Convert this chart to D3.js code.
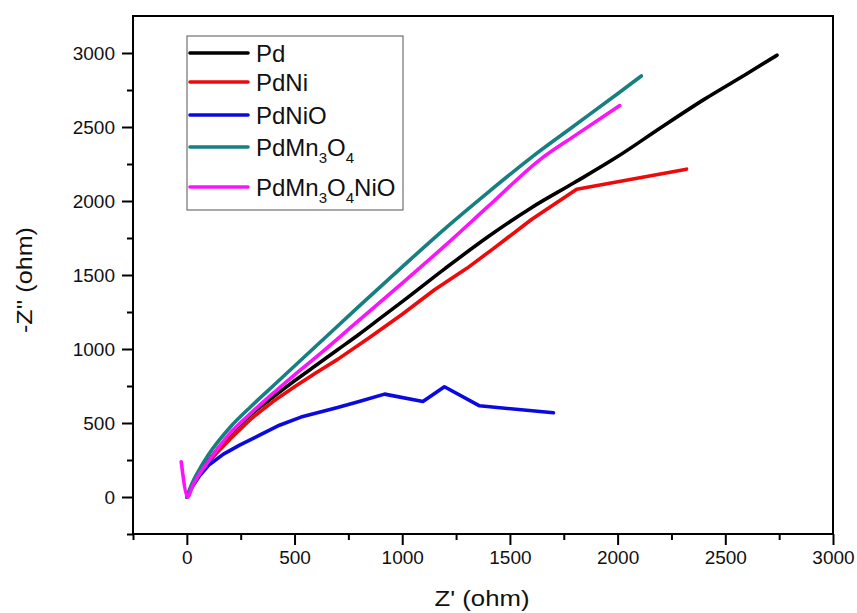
<!DOCTYPE html>
<html>
<head>
<meta charset="utf-8">
<script src="https://cdn.jsdelivr.net/npm/d3@7"></script>
<style>
  html, body { margin: 0; padding: 0; background: #fff; }
  svg { display: block; font-family: "Liberation Sans", Arial, sans-serif; }
</style>
</head>
<body>
<svg id="chart" width="857" height="613"></svg>
<script>
// Nyquist plot: -Z'' against Z' for five electrode materials

const seriesNames = ["Pd", "PdNi", "PdNiO", "PdMn3O4", "PdMn3O4NiO"];
const seriesColors = ["#000000", "#ee0a0a", "#0a0ae0", "#177f80", "#fb14fb"];

// Z' values (ohm) and -Z'' values (ohm) for each series
const pdX    = [0, 25, 50, 100, 200, 300, 400, 500, 600, 700, 800, 900, 1000, 1200, 1400, 1600, 1800, 2000, 2200, 2400, 2600, 2740];
const pdY    = [0, 80, 145, 245, 420, 560, 675, 785, 890, 995, 1100, 1210, 1320, 1545, 1760, 1955, 2125, 2300, 2495, 2685, 2860, 2985];

const pdNiX  = [0, 25, 50, 100, 150, 200, 300, 400, 500, 600, 700, 850, 1000, 1150, 1300, 1420, 1600, 1810, 2320];
const pdNiY  = [0, 80, 140, 235, 315, 390, 530, 645, 745, 840, 930, 1080, 1235, 1400, 1545, 1675, 1875, 2080, 2215];

const pdNiOX = [0, 30, 60, 105, 170, 245, 340, 430, 530, 700, 800, 918, 1096, 1196, 1359, 1702];
const pdNiOY = [0, 80, 145, 220, 290, 350, 420, 485, 540, 605, 645, 695, 645, 745, 616, 569];

const pdMnX  = [0, 25, 50, 100, 200, 300, 400, 500, 600, 800, 1000, 1200, 1400, 1600, 1800, 2000, 2110];
const pdMnY  = [0, 95, 165, 285, 470, 615, 750, 885, 1020, 1290, 1555, 1815, 2060, 2295, 2510, 2725, 2845];

const pdMnNiOX = [-26, 5, 25, 50, 100, 200, 300, 400, 500, 600, 800, 1000, 1200, 1400, 1640, 1800, 2010];
const pdMnNiOY = [238, -2, 70, 135, 240, 430, 570, 700, 825, 945, 1195, 1445, 1700, 1965, 2280, 2440, 2645];

const xTickValues = [0, 500, 1000, 1500, 2000, 2500, 3000];
const yTickValues = [0, 500, 1000, 1500, 2000, 2500, 3000];
const xMinorValues = [-250, 250, 750, 1250, 1750, 2250, 2750];
const yMinorValues = [-250, 250, 750, 1250, 1750, 2250, 2750];

const xAxisTitle = "Z' (ohm)";
const yAxisTitle = "-Z'' (ohm)";

// smooth traces use a monotone spline; PdNi and PdNiO are joined point to point
const seriesData = [
  { name: seriesNames[0], color: seriesColors[0], x: pdX, y: pdY, curve: d3.curveMonotoneX },
  { name: seriesNames[1], color: seriesColors[1], x: pdNiX, y: pdNiY, curve: d3.curveLinear },
  { name: seriesNames[2], color: seriesColors[2], x: pdNiOX, y: pdNiOY, curve: d3.curveLinear },
  { name: seriesNames[3], color: seriesColors[3], x: pdMnX, y: pdMnY, curve: d3.curveMonotoneX },
  { name: seriesNames[4], color: seriesColors[4], x: pdMnNiOX, y: pdMnNiOY, curve: d3.curveMonotoneX }
];

const svg = d3.select("#chart");
const plotLeft = 133, plotRight = 833, plotTop = 16, plotBottom = 534;

const x = d3.scaleLinear().domain([-250, 3000]).range([plotLeft, plotRight]);
const y = d3.scaleLinear().domain([-250, 3250]).range([plotBottom, plotTop]);

const plot = svg.append("g");
seriesData.forEach(s => {
  const pts = s.x.map((v, i) => [v, s.y[i]]);
  const line = d3.line()
    .x(d => x(d[0]))
    .y(d => y(d[1]))
    .curve(s.curve);
  plot.append("path")
    .datum(pts)
    .attr("fill", "none")
    .attr("stroke", s.color)
    .attr("stroke-width", 3.6)
    .attr("stroke-linejoin", "round")
    .attr("stroke-linecap", "round")
    .attr("d", line);
});

// frame
svg.append("rect")
  .attr("x", plotLeft).attr("y", plotTop)
  .attr("width", plotRight - plotLeft).attr("height", plotBottom - plotTop)
  .attr("fill", "none").attr("stroke", "#000").attr("stroke-width", 2);

// bottom axis, major and minor ticks
const xAxis = d3.axisBottom(x).tickValues(xTickValues).tickSize(11).tickPadding(6).tickFormat(d3.format("d"));
const gx = svg.append("g").attr("transform", `translate(0,${plotBottom})`).call(xAxis);
const gxMinor = svg.append("g").attr("transform", `translate(0,${plotBottom})`)
  .call(d3.axisBottom(x).tickValues(xMinorValues).tickSize(6).tickFormat(""));

// left axis, major and minor ticks
const yAxis = d3.axisLeft(y).tickValues(yTickValues).tickSize(11).tickPadding(7).tickFormat(d3.format("d"));
const gy = svg.append("g").attr("transform", `translate(${plotLeft},0)`).call(yAxis);
const gyMinor = svg.append("g").attr("transform", `translate(${plotLeft},0)`)
  .call(d3.axisLeft(y).tickValues(yMinorValues).tickSize(6).tickFormat(""));

[gx, gxMinor, gy, gyMinor].forEach(g => {
  g.select(".domain").remove();
  g.selectAll(".tick line").attr("stroke", "#000").attr("stroke-width", 2);
  g.selectAll("text")
    .attr("fill", "#111")
    .style("font-family", "'Liberation Sans', Arial, sans-serif")
    .style("font-size", "19px");
});

// axis titles
svg.append("text")
  .attr("x", 482).attr("y", 606)
  .attr("text-anchor", "middle")
  .attr("textLength", 95)
  .attr("lengthAdjust", "spacingAndGlyphs")
  .style("font-size", "22px").attr("fill", "#111")
  .text(xAxisTitle);

svg.append("text")
  .attr("transform", "translate(32,280) rotate(-90)")
  .attr("text-anchor", "middle")
  .attr("textLength", 106)
  .attr("lengthAdjust", "spacingAndGlyphs")
  .style("font-size", "22px").attr("fill", "#111")
  .text(yAxisTitle);

// legend
const legend = svg.append("g");
legend.append("rect")
  .attr("x", 187).attr("y", 36).attr("width", 216).attr("height", 174)
  .attr("fill", "#fff").attr("stroke", "#555").attr("stroke-width", 1);

const rowY = [53, 82, 115, 147, 187];
const labelParts = [
  [["Pd", false]],
  [["PdNi", false]],
  [["PdNiO", false]],
  [["PdMn", false], ["3", true], ["O", false], ["4", true]],
  [["PdMn", false], ["3", true], ["O", false], ["4", true], ["NiO", false]]
];

seriesData.forEach((s, i) => {
  legend.append("line")
    .attr("x1", 190).attr("x2", 248)
    .attr("y1", rowY[i]).attr("y2", rowY[i])
    .attr("stroke", s.color).attr("stroke-width", 3.6)
    .attr("stroke-linecap", "round");
  const t = legend.append("text")
    .attr("x", 256).attr("y", rowY[i] + 9)
    .style("font-size", "24px").attr("fill", "#111");
  labelParts[i].forEach(([txt, sub], j) => {
    const ts = t.append("tspan").text(txt);
    if (sub) {
      ts.style("font-size", "15px").attr("dy", 7);
    } else if (j > 0) {
      ts.attr("dy", -7);
    }
  });
});
</script>
</body>
</html>
